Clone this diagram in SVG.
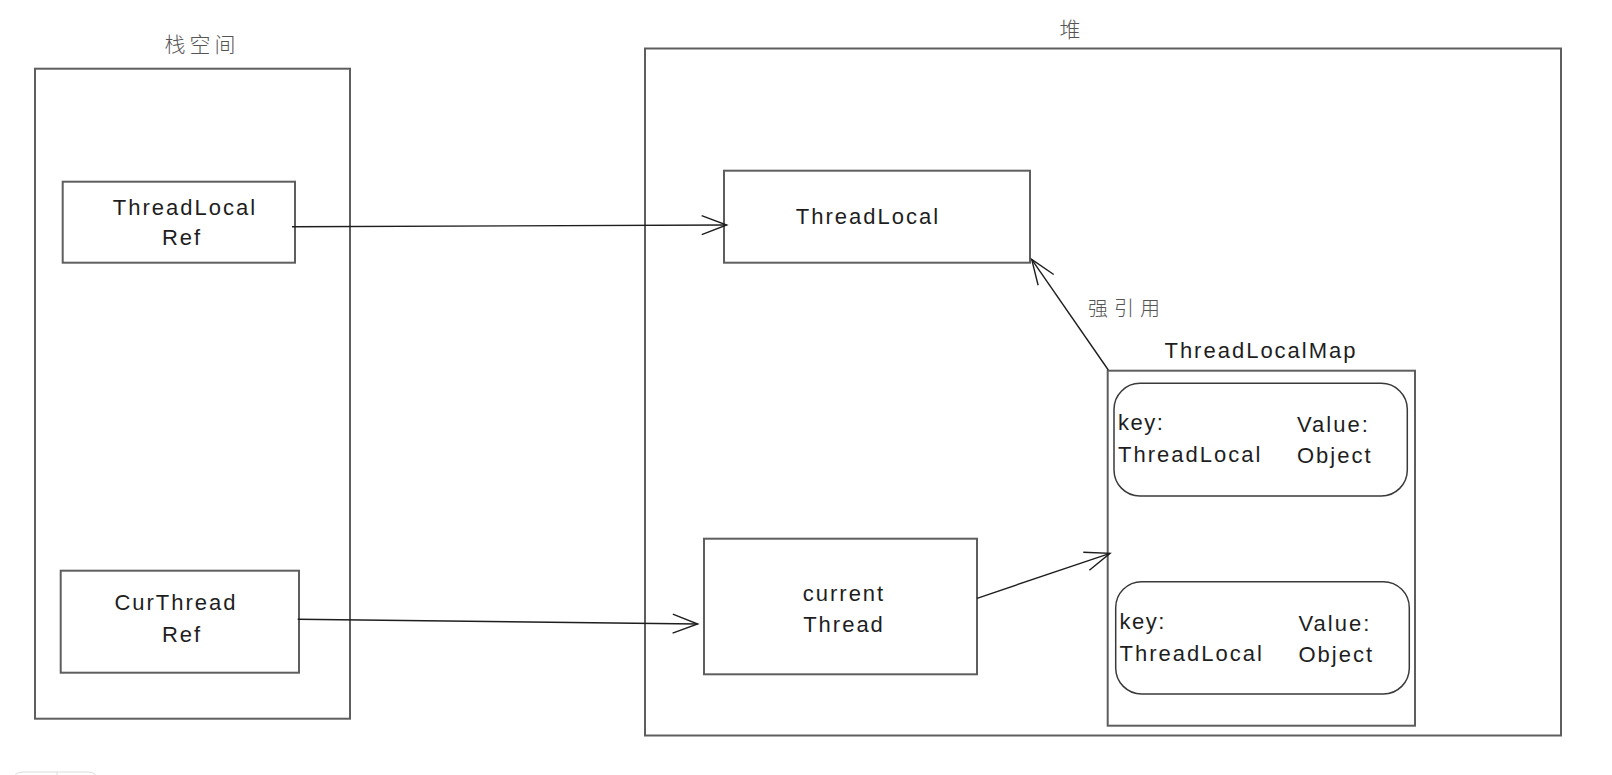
<svg xmlns="http://www.w3.org/2000/svg" width="1612" height="775" viewBox="0 0 1612 775">
<style>
.box{fill:none;stroke:#5e5e5e;stroke-width:2}
.rbox{fill:none;stroke:#3a3a3a;stroke-width:1.5}
.t{font-family:"Liberation Sans",Arial,sans-serif;font-size:22px;fill:#1e1e1e;letter-spacing:2px}
.c{text-anchor:middle}
.cjk{font-family:"Noto Sans CJK SC","Noto Sans",sans-serif;font-size:21px;font-weight:300;fill:#555;letter-spacing:4px;text-anchor:middle}
.conn{fill:none;stroke:#1e1e1e;stroke-width:1.4}
</style>
<defs>
<marker id="arr" markerUnits="userSpaceOnUse" markerWidth="40" markerHeight="40" viewBox="-30 -15 40 30" refX="0" refY="0" orient="auto" overflow="visible">
<path d="M -25 -9.5 L 0 0 L -25 9.5" fill="none" stroke="#1e1e1e" stroke-width="1.4"/>
</marker>
</defs>
<rect width="1612" height="775" fill="#ffffff"/>

<g id="stack">
<rect class="box" x="35" y="68.7" width="315" height="650"/>
<text class="cjk" x="202" y="52">栈空间</text>
</g>

<g id="heap">
<rect class="box" x="645" y="48.5" width="916" height="687"/>
<text class="cjk" x="1072" y="37">堆</text>
</g>

<g id="threadlocal-ref">
<rect class="box" x="62.7" y="181.7" width="232.3" height="81"/>
<text class="t c" x="185" y="215">ThreadLocal</text>
<text class="t c" x="182" y="245">Ref</text>
</g>

<g id="curthread-ref">
<rect class="box" x="60.7" y="570.7" width="238.3" height="102"/>
<text class="t c" x="176" y="610">CurThread</text>
<text class="t c" x="182" y="641.5">Ref</text>
</g>

<g id="threadlocal">
<rect class="box" x="724" y="170.7" width="306" height="92"/>
<text class="t c" x="868" y="224">ThreadLocal</text>
</g>

<g id="current-thread">
<rect class="box" x="704" y="538.7" width="273" height="135.6"/>
<text class="t c" x="844" y="600.5">current</text>
<text class="t c" x="844" y="632">Thread</text>
</g>

<g id="threadlocalmap">
<rect class="box" x="1107.7" y="370.7" width="307.3" height="355"/>
<text class="t c" x="1261" y="358">ThreadLocalMap</text>
</g>

<g id="entry1">
<rect class="rbox" x="1114" y="383.3" width="293.3" height="112.7" rx="26" ry="26"/>
<text class="t" x="1118" y="430" style="letter-spacing:1.5px">key:</text>
<text class="t" x="1118" y="461.5">ThreadLocal</text>
<text class="t" x="1297" y="431.5">Value:</text>
<text class="t" x="1297" y="463">Object</text>
</g>

<g id="entry2">
<rect class="rbox" x="1115.7" y="581.7" width="293.6" height="112.3" rx="26" ry="26"/>
<text class="t" x="1119.5" y="629" style="letter-spacing:1.5px">key:</text>
<text class="t" x="1119.5" y="660.5">ThreadLocal</text>
<text class="t" x="1298.5" y="630.5">Value:</text>
<text class="t" x="1298.5" y="661.5">Object</text>
</g>

<g id="connectors">
<path class="conn" d="M 292 226.7 L 726.7 225" marker-end="url(#arr)"/>
<path class="conn" d="M 297.7 619.3 L 697.7 624" marker-end="url(#arr)"/>
<path class="conn" d="M 977 598.3 L 1110 553.3" marker-end="url(#arr)"/>
<path class="conn" d="M 1108.3 370 L 1031.7 259.3" marker-end="url(#arr)"/>
<text class="cjk" x="1127" y="316" style="font-size:20px;letter-spacing:6px">强引用</text>
</g>

<path d="M 13 776 L 13 782 Q 13 772 23 772 L 88 772 Q 98 772 98 782 M 57 772 L 57 776" fill="none" stroke="#dcdcdc" stroke-width="1"/>
</svg>
